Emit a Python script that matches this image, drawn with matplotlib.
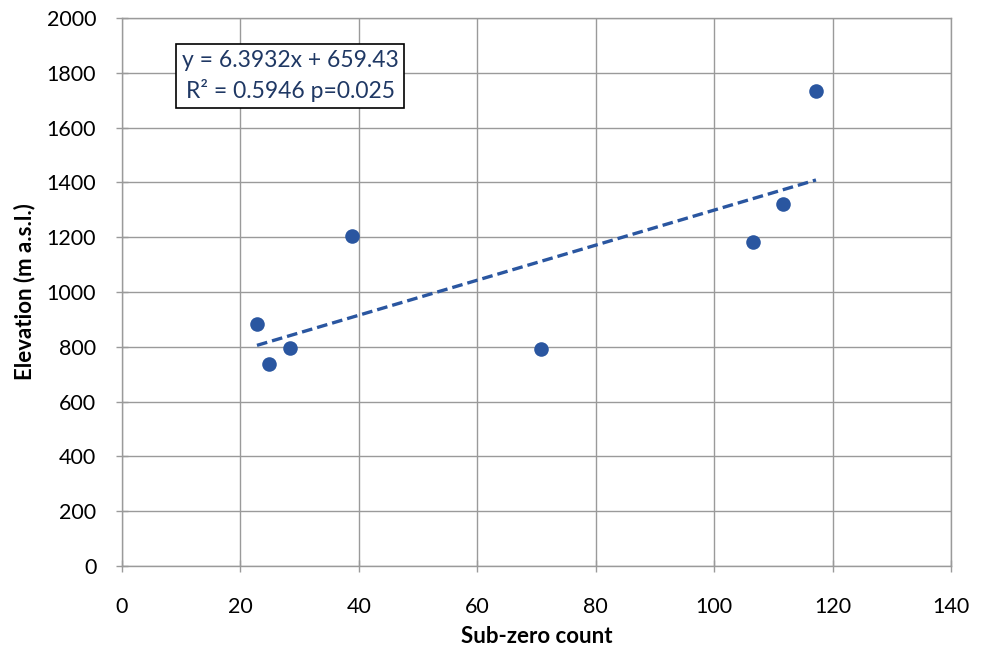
import numpy as np
import matplotlib
matplotlib.use('Agg')
import matplotlib.pyplot as plt

# ================= data =================
sub_zero_count = [22.8, 24.9, 28.3, 38.9, 70.7, 106.5, 111.6, 117.2]
elevation = [884, 738, 794, 1204, 793, 1182, 1322, 1735]

# trend line as printed on the chart
SLOPE = 6.3932
INTERCEPT = 659.43
R2 = 0.5946
P_VALUE = 0.025

x_ticks = [0, 20, 40, 60, 80, 100, 120, 140]
y_ticks = [0, 200, 400, 600, 800, 1000, 1200, 1400, 1600, 1800, 2000]

BLUE = '#2A56A0'
TEXT_BLUE = '#1F3864'
GRID = '#9A9A9A'

plt.rcParams['font.family'] = ['Lato', 'DejaVu Sans']

fig = plt.figure(figsize=(9.86, 6.51), dpi=100)
ax = fig.add_axes([0.1237, 0.1306, 0.8408, 0.8418])

ax.scatter(sub_zero_count, elevation, s=110, color=BLUE, zorder=3, linewidths=0)

x_line = np.array([min(sub_zero_count), max(sub_zero_count)])
ax.plot(x_line, SLOPE * x_line + INTERCEPT, color=BLUE, linewidth=2.4,
        dashes=(3.2, 1.5), zorder=2)

ax.set_xlim(0, 140)
ax.set_ylim(0, 2000)
ax.set_xticks(x_ticks)
ax.set_yticks(y_ticks)
ax.grid(True, color=GRID, linewidth=1.0)
ax.set_axisbelow(True)
for sp in ax.spines.values():
    sp.set_color(GRID)
    sp.set_linewidth(1.0)
ax.tick_params(axis='both', direction='inout', length=9, width=1.0,
               color=GRID, labelsize=15.5, labelcolor='black')
ax.tick_params(axis='x', pad=18)
ax.tick_params(axis='y', pad=14)

ax.set_xlabel('Sub-zero count', fontsize=16, fontweight='bold', labelpad=6)
ax.set_ylabel('Elevation (m a.s.l.)', fontsize=16, fontweight='bold', labelpad=8)

fig.text(0.2945, 0.883,
         f'y = {SLOPE}x + {INTERCEPT}\nR² = {R2} p={P_VALUE}',
         ha='center', va='center', fontsize=16.5, color=TEXT_BLUE,
         linespacing=1.45,
         bbox=dict(boxstyle='square,pad=0.25', facecolor='white',
                   edgecolor='black', linewidth=1.2))

fig.savefig('out.png', dpi=100)
